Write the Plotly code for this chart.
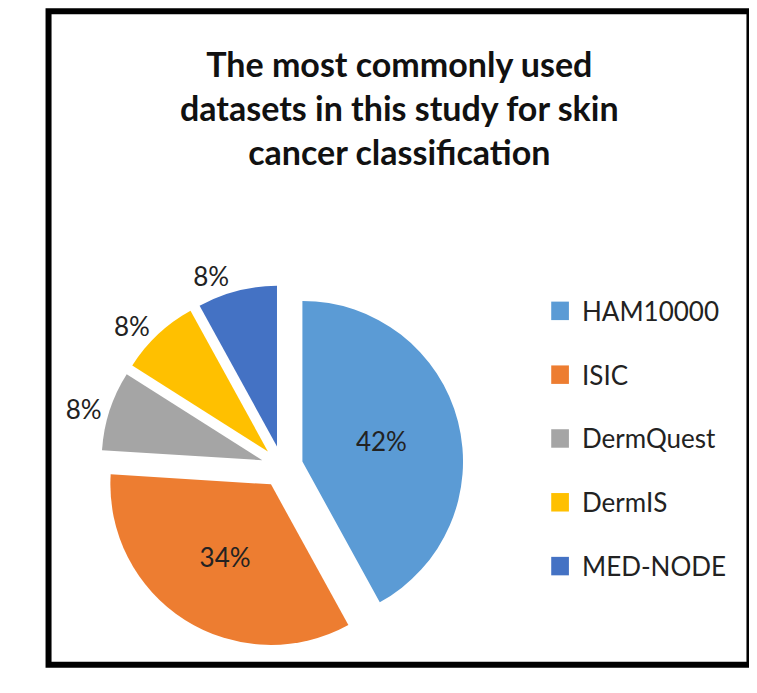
import plotly.graph_objects as go

labels = ["HAM10000", "ISIC", "DermQuest", "DermIS", "MED-NODE"]
values = [42, 34, 8, 8, 8]
colors = ["#5B9BD5", "#ED7D31", "#A5A5A5", "#FFC000", "#4472C4"]
positions = ["inside", "inside", "outside", "outside", "outside"]

W, H = 745, 684
fig = go.Figure(go.Pie(
    labels=labels, values=values, sort=False, direction="clockwise", rotation=0,
    marker=dict(colors=colors, line=dict(color="white", width=0)),
    pull=[0.13] * 5, textinfo="percent", texttemplate="%{value}%",
    textposition=positions, insidetextorientation="horizontal",
    textfont=dict(size=26, color="#222"), outsidetextfont=dict(size=26, color="#222"),
    domain=dict(x=[0.07, 0.6], y=[0.03, 0.58]), showlegend=False,
))

annotations = [dict(text="<b>The most commonly used<br>datasets in this study for skin<br>cancer classification</b>",
                    x=0.5, y=0.95, xref="paper", yref="paper", yanchor="top",
                    showarrow=False, font=dict(size=34, color="#111"))]
shapes = [dict(type="rect", xref="paper", yref="paper", x0=0.005, y0=0.005, x1=0.995, y1=0.995,
               line=dict(color="black", width=6))]
for i, (lab, col) in enumerate(zip(labels, colors)):
    yc = 1 - (318 + 67 * i) / 693
    shapes.append(dict(type="rect", xref="paper", yref="paper", x0=0.715, x1=0.74,
                       y0=yc - 0.014, y1=yc + 0.014, fillcolor=col, line=dict(width=0)))
    annotations.append(dict(text=lab, x=0.755, y=yc, xref="paper", yref="paper",
                            xanchor="left", yanchor="middle", showarrow=False,
                            font=dict(size=26, color="#222")))

fig.update_layout(
    width=W, height=H, margin=dict(l=0, r=0, t=0, b=0),
    paper_bgcolor="white", font=dict(family="Lato, Open Sans, sans-serif"),
    annotations=annotations, shapes=shapes,
)
fig.write_html("out.html")
